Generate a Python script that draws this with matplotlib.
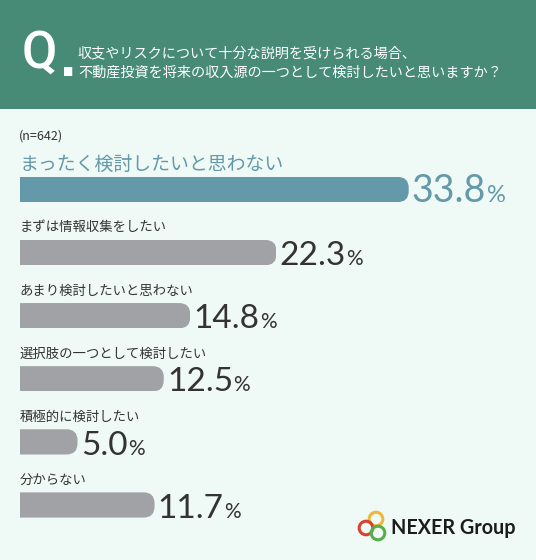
import matplotlib
matplotlib.use("Agg")
import matplotlib.pyplot as plt
from matplotlib.patches import Rectangle, FancyBboxPatch, Circle
from matplotlib.transforms import IdentityTransform

plt.rcParams['font.family'] = ['Noto Sans CJK JP', 'DejaVu Sans']

# ---- data ----
categories = ["まったく検討したいと思わない", "まずは情報収集をしたい", "あまり検討したいと思わない",
              "選択肢の一つとして検討したい", "積極的に検討したい", "分からない"]
values = [33.8, 22.3, 14.8, 12.5, 5.0, 11.7]
title_lines = ["収支やリスクについて十分な説明を受けられる場合、",
               "不動産投資を将来の収入源の一つとして検討したいと思いますか？"]
sample_note = "(n=642)"
brand = "NEXER Group"

W, H = 536, 560
BG = "#EFF9F6"
HEADER = "#478B77"
HIGHLIGHT = "#6399A8"
GRAY = "#A0A2A5"
DARK = "#333333"

fig = plt.figure(figsize=(W / 100, H / 100), dpi=100)
fig.patch.set_facecolor(BG)

def fx(px):
    return px / W

def fy(py):
    return 1 - py / H

# header band
fig.add_artist(Rectangle((0, fy(109)), 1, 109 / H, transform=fig.transFigure,
                         facecolor=HEADER, edgecolor="none", zorder=0))
fig.text(fx(22), fy(68), "Q", color="white", fontsize=37,
         family=["Roboto", "DejaVu Sans"], fontweight="medium", va="baseline", ha="left")
fig.text(fx(60), fy(76), ".", color="white", fontsize=42,
         family=["Liberation Sans", "DejaVu Sans"], fontweight="bold", va="baseline", ha="left")
fig.text(fx(78), fy(53), title_lines[0], color="white", fontsize=10.2, va="center", ha="left")
fig.text(fx(78), fy(73), title_lines[1], color="white", fontsize=10.2, va="center", ha="left")

# sample note
fig.text(fx(19), fy(136), sample_note, color=DARK, fontsize=9, va="center", ha="left")

# bars
ax = fig.add_axes([fx(20), fy(540), 460 / W, 390 / H])
ax.set_xlim(0, 40)
ax.set_ylim(5.555, -0.626)
ax.axis("off")
ax.patch.set_alpha(0)

ypos = list(range(len(values)))
h = 0.40
colors = [HIGHLIGHT] + [GRAY] * (len(values) - 1)
bars = ax.barh(ypos, values, height=h, color=colors, edgecolor="none")

for i, (b, v) in enumerate(zip(bars, values)):
    (x0, y0) = ax.transData.transform((0, i + h / 2))
    (x1, y1) = ax.transData.transform((v, i - h / 2))
    clip = FancyBboxPatch((x0 - 40, min(y0, y1)), (x1 - x0) + 40, abs(y1 - y0),
                          boxstyle="round,pad=0,rounding_size=11",
                          transform=IdentityTransform())
    b.set_clip_path(clip)

    first = i == 0
    ax.text(0, i - 0.40, categories[i], color=HIGHLIGHT if first else DARK,
            fontsize=13.6 if first else 9.6, va="center", ha="left")
    num = ax.text(v + 0.28, i + h / 2, f"{v:.1f}", color=HIGHLIGHT if first else DARK,
                  fontsize=27 if first else 24, family=["Lato", "DejaVu Sans"],
                  va="baseline", ha="left")
    ax.annotate("%", xy=(1, i + h / 2), xycoords=(num, "data"), xytext=(0.3, 0),
                textcoords="offset points", color=HIGHLIGHT if first else DARK,
                fontsize=17 if first else 15, family=["Lato", "DejaVu Sans"],
                va="baseline", ha="left")

# logo
def circ(px, py, color):
    fig.add_artist(Circle((px / 100, (H - py) / 100), 0.068, transform=fig.dpi_scale_trans,
                          facecolor="none", edgecolor=color, linewidth=2.2))

circ(376, 519, "#F0B73A")
circ(366, 528, "#D8412F")
circ(378, 533, "#58AE4A")
fig.text(fx(391), fy(528), brand, color="#1C1C1C", fontsize=14.2, fontweight="bold",
         family=["Lato", "DejaVu Sans"], va="center", ha="left")

fig.savefig("out.png", dpi=100, facecolor=BG)
